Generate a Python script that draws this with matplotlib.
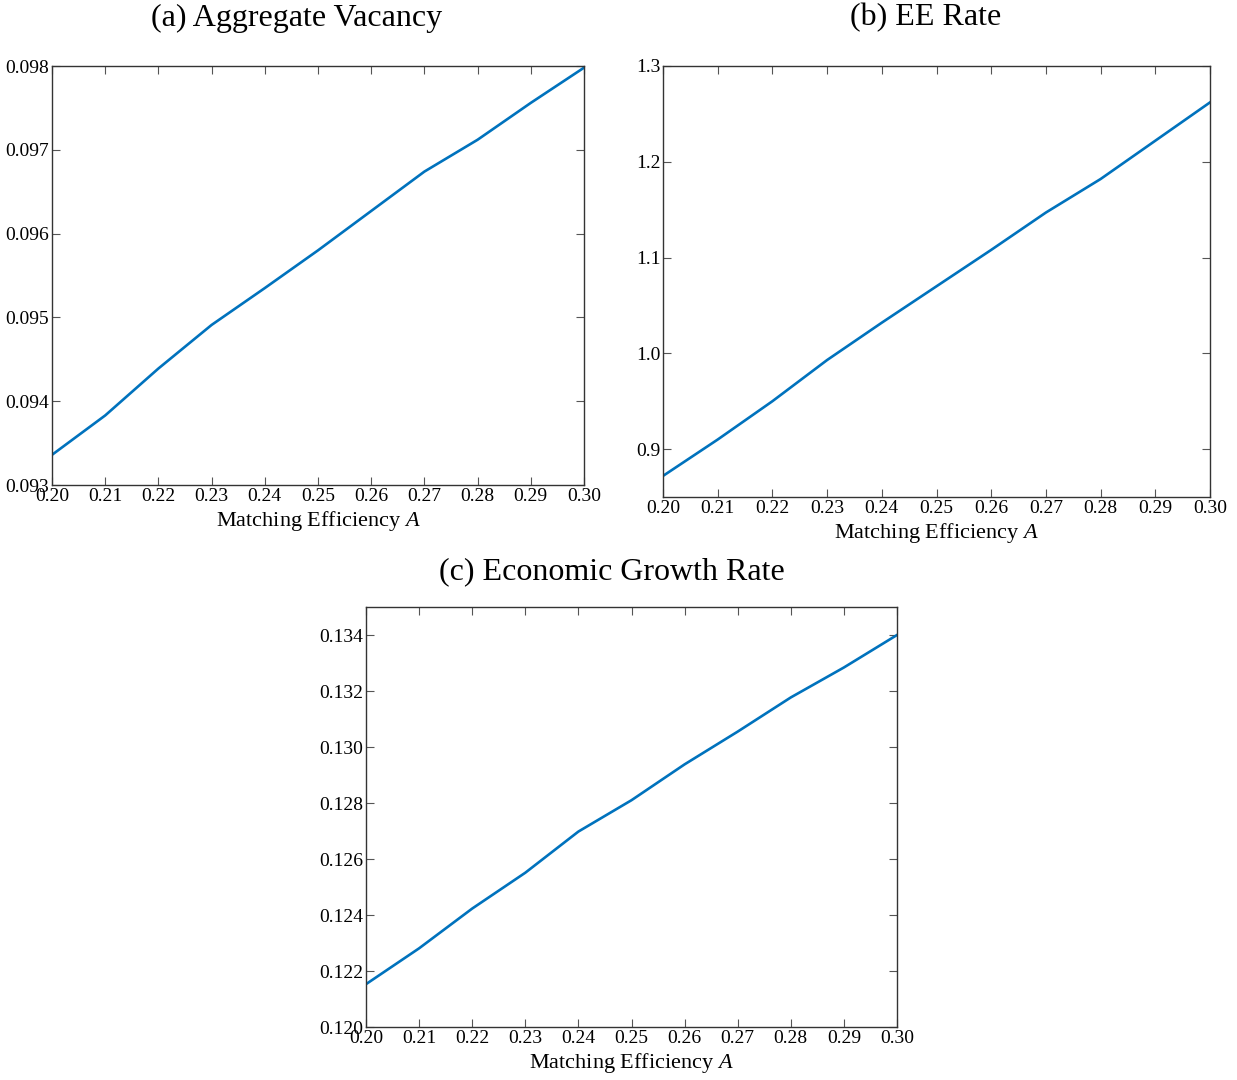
import numpy as np
import matplotlib
matplotlib.use("Agg")
import matplotlib.pyplot as plt

plt.rcParams['font.family'] = ['Liberation Serif', 'DejaVu Serif']
plt.rcParams['mathtext.fontset'] = 'custom'
plt.rcParams['mathtext.rm'] = 'Liberation Serif'
plt.rcParams['mathtext.it'] = 'Liberation Serif:italic'

# matching efficiency grid
A = [0.20, 0.21, 0.22, 0.23, 0.24, 0.25, 0.26, 0.27, 0.28, 0.29, 0.30]

# values
vacancy = [0.09336, 0.09383, 0.09439, 0.09491, 0.09535, 0.09580,
           0.09627, 0.09674, 0.09712, 0.09756, 0.09798]
ee_rate = [0.872, 0.910, 0.950, 0.993, 1.032, 1.070,
           1.108, 1.147, 1.182, 1.222, 1.262]
growth = [0.12153, 0.12281, 0.12423, 0.12551, 0.12698, 0.12810,
          0.12938, 0.13055, 0.13177, 0.13284, 0.13400]

titles = ['(a) Aggregate Vacancy', '(b) EE Rate', '(c) Economic Growth Rate']
xlab = 'Matching Efficiency $A$'
LINE_COLOR = '#0072BD'

W, H = 1237, 1080
fig = plt.figure(figsize=(W / 100, H / 100), dpi=100)


def px_axes(left, top, right, bottom):
    """axes from pixel box"""
    return fig.add_axes([left / W, 1 - bottom / H, (right - left) / W, (bottom - top) / H])


def style(ax, yticks, ylim, fmt):
    ax.set_xlim(0.20, 0.30)
    ax.set_ylim(*ylim)
    ax.set_xticks(A)
    ax.set_xticklabels([f"{v:.2f}" for v in A])
    ax.set_yticks(yticks)
    ax.set_yticklabels([fmt.format(v) for v in yticks])
    ax.tick_params(direction='in', top=True, right=True, length=6, width=0.8,
                   color='#555555', labelsize=14, pad=2)
    for s in ax.spines.values():
        s.set_linewidth(1.0)
        s.set_color('#333333')
    ax.set_xlabel(xlab, fontsize=16, labelpad=3)


ax1 = px_axes(52, 66, 584, 485)
ax1.plot(A, vacancy, color=LINE_COLOR, lw=1.9)
style(ax1, [0.093, 0.094, 0.095, 0.096, 0.097, 0.098], (0.093, 0.098), "{:.3f}")

ax2 = px_axes(663, 66, 1210, 497)
ax2.plot(A, ee_rate, color=LINE_COLOR, lw=1.9)
style(ax2, [0.9, 1.0, 1.1, 1.2, 1.3], (0.85, 1.3), "{:.1f}")

ax3 = px_axes(366, 607, 897, 1027)
ax3.plot(A, growth, color=LINE_COLOR, lw=1.9)
style(ax3, [0.120, 0.122, 0.124, 0.126, 0.128, 0.130, 0.132, 0.134], (0.120, 0.135), "{:.3f}")

fig.text(297 / W, 1 - 18 / H, titles[0], fontsize=23, ha='center', va='center')
fig.text(926 / W, 1 - 18 / H, titles[1], fontsize=23, ha='center', va='center')
fig.text(612 / W, 1 - 572 / H, titles[2], fontsize=23, ha='center', va='center')

fig.savefig('out.png', dpi=100)
